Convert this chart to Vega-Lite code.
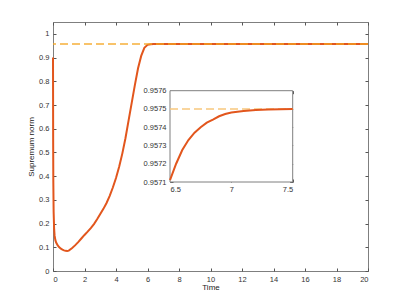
{
  "$schema": "https://vega.github.io/schema/vega-lite/v6.json",
  "width": 315,
  "height": 249,
  "autosize": "none",
  "padding": {"left": 53, "top": 22, "right": 39, "bottom": 34},
  "background": "white",
  "config": {
    "view": {"stroke": "#7f7f7f", "strokeWidth": 1},
    "axis": {
      "labelFont": "Liberation Sans", "titleFont": "Liberation Sans",
      "labelFontSize": 7.5, "titleFontSize": 8, "labelColor": "#333333", "titleColor": "#222222",
      "titleFontWeight": "normal", "domain": false, "grid": false, "labelOverlap": false,
      "tickColor": "#555555", "tickSize": -3, "labelPadding": 7
    }
  },
  "datasets": {
    "d": [
      {"t": 0, "v": 0.9}, {"t": 0.01, "v": 0.55}, {"t": 0.02, "v": 0.38}, {"t": 0.04, "v": 0.25},
      {"t": 0.07, "v": 0.18}, {"t": 0.1, "v": 0.15}, {"t": 0.15, "v": 0.13}, {"t": 0.2, "v": 0.12},
      {"t": 0.3, "v": 0.108}, {"t": 0.4, "v": 0.1}, {"t": 0.5, "v": 0.094}, {"t": 0.6, "v": 0.09},
      {"t": 0.7, "v": 0.087}, {"t": 0.8, "v": 0.085}, {"t": 0.9, "v": 0.084}, {"t": 1.0, "v": 0.086},
      {"t": 1.2, "v": 0.096}, {"t": 1.4, "v": 0.108}, {"t": 1.6, "v": 0.122}, {"t": 1.8, "v": 0.137},
      {"t": 2.0, "v": 0.152}, {"t": 2.2, "v": 0.166}, {"t": 2.4, "v": 0.181}, {"t": 2.6, "v": 0.198},
      {"t": 2.8, "v": 0.218}, {"t": 3.0, "v": 0.24}, {"t": 3.2, "v": 0.262}, {"t": 3.4, "v": 0.287},
      {"t": 3.6, "v": 0.317}, {"t": 3.8, "v": 0.352}, {"t": 4.0, "v": 0.392}, {"t": 4.2, "v": 0.44},
      {"t": 4.4, "v": 0.495}, {"t": 4.6, "v": 0.56}, {"t": 4.8, "v": 0.635}, {"t": 5.0, "v": 0.71},
      {"t": 5.2, "v": 0.785}, {"t": 5.4, "v": 0.855}, {"t": 5.6, "v": 0.907}, {"t": 5.8, "v": 0.941},
      {"t": 6.0, "v": 0.9535}, {"t": 6.2, "v": 0.9564}, {"t": 6.4, "v": 0.957},
      {"t": 6.5, "v": 0.95711}, {"t": 6.55, "v": 0.9572}, {"t": 6.6, "v": 0.957275}, {"t": 6.65, "v": 0.95733},
      {"t": 6.7, "v": 0.95737}, {"t": 6.75, "v": 0.9574}, {"t": 6.8, "v": 0.957425}, {"t": 6.85, "v": 0.957442},
      {"t": 6.9, "v": 0.95746}, {"t": 6.95, "v": 0.957472}, {"t": 7.0, "v": 0.957481}, {"t": 7.1, "v": 0.957489},
      {"t": 7.2, "v": 0.957494}, {"t": 7.3, "v": 0.957497}, {"t": 7.4, "v": 0.957499}, {"t": 7.5, "v": 0.9575},
      {"t": 8, "v": 0.9575}, {"t": 10, "v": 0.9575}, {"t": 12, "v": 0.9575}, {"t": 14, "v": 0.9575},
      {"t": 16, "v": 0.9575}, {"t": 18, "v": 0.9575}, {"t": 20, "v": 0.9575}
    ],
    "box": [{"a": 6.5, "b": 7.5, "c": 0.9571, "e": 0.9576}],
    "lim": [{"y": 0.9575, "x1": 6.5, "x2": 7.5}]
  },
  "layer": [
    {
      "layer": [
        {
          "data": {"name": "d"},
          "mark": {"type": "line", "color": "#e2561d", "strokeWidth": 2},
          "encoding": {
            "x": {"field": "t", "type": "quantitative",
              "scale": {"domain": [0, 20], "nice": false, "zero": false},
              "axis": {"values": [0, 2, 4, 6, 8, 10, 12, 14, 16, 18, 20], "format": "~g", "title": "Time", "titlePadding": 1}},
            "y": {"field": "v", "type": "quantitative",
              "scale": {"domain": [0, 1.05], "nice": false, "zero": false},
              "axis": {"values": [0, 0.1, 0.2, 0.3, 0.4, 0.5, 0.6, 0.7, 0.8, 0.9, 1], "format": "~g", "title": "Supremum norm", "titlePadding": 3}}
          }
        },
        {
          "data": {"name": "lim"},
          "mark": {"type": "rule", "color": "#f5a623", "strokeWidth": 1.5, "strokeDash": [8, 4], "opacity": 0.9},
          "encoding": {"y": {"field": "y", "type": "quantitative",
              "axis": {"values": [0, 0.1, 0.2, 0.3, 0.4, 0.5, 0.6, 0.7, 0.8, 0.9, 1], "format": "~g", "title": "Supremum norm", "titlePadding": 3}}}
        }
      ]
    },
    {
      "data": {"name": "d"},
      "mark": {"type": "point", "opacity": 0},
      "encoding": {
        "x": {"field": "t", "type": "quantitative",
          "scale": {"domain": [0, 20], "nice": false, "zero": false},
          "axis": {"orient": "top", "values": [0, 2, 4, 6, 8, 10, 12, 14, 16, 18, 20], "labels": false, "title": null}},
        "y": {"field": "v", "type": "quantitative",
          "scale": {"domain": [0, 1.05], "nice": false, "zero": false},
          "axis": {"orient": "right", "values": [0, 0.1, 0.2, 0.3, 0.4, 0.5, 0.6, 0.7, 0.8, 0.9, 1], "labels": false, "title": null}}
      }
    },
    {
      "layer": [
        {
          "data": {"name": "box"},
          "mark": {"type": "rect", "fill": "white", "stroke": "#7f7f7f", "strokeWidth": 1},
          "encoding": {
            "x": {"field": "a", "type": "quantitative",
              "scale": {"domain": [6.5, 7.5], "range": [117, 239.7], "nice": false, "zero": false},
              "axis": {"values": [6.5, 7, 7.5], "format": "~g", "title": null, "offset": -89, "labelPadding": 6}},
            "x2": {"field": "b"},
            "y": {"field": "c", "type": "quantitative",
              "scale": {"domain": [0.9571, 0.9576], "range": [160, 68.7], "nice": false, "zero": false},
              "axis": {"values": [0.9571, 0.9572, 0.9573, 0.9574, 0.9575, 0.9576], "format": ".4f", "title": null, "offset": -117, "labelPadding": 7}},
            "y2": {"field": "e"}
          }
        },
        {
          "data": {"name": "lim"},
          "mark": {"type": "rule", "color": "#f7c77e", "strokeWidth": 1.5, "strokeDash": [8, 4]},
          "encoding": {
            "y": {"field": "y", "type": "quantitative",
              "axis": {"values": [0.9571, 0.9572, 0.9573, 0.9574, 0.9575, 0.9576], "format": ".4f", "title": null, "offset": -117, "labelPadding": 7}},
            "x": {"field": "x1", "type": "quantitative",
              "axis": {"values": [6.5, 7, 7.5], "format": "~g", "title": null, "offset": -89, "labelPadding": 6}},
            "x2": {"field": "x2"}}
        },
        {
          "data": {"name": "d"},
          "transform": [{"filter": "datum.t >= 6.5 && datum.t <= 7.5"}],
          "mark": {"type": "line", "color": "#e2561d", "strokeWidth": 2},
          "encoding": {
            "x": {"field": "t", "type": "quantitative",
              "axis": {"values": [6.5, 7, 7.5], "format": "~g", "title": null, "offset": -89, "labelPadding": 6}},
            "y": {"field": "v", "type": "quantitative",
              "axis": {"values": [0.9571, 0.9572, 0.9573, 0.9574, 0.9575, 0.9576], "format": ".4f", "title": null, "offset": -117, "labelPadding": 7}}
          }
        }
      ]
    },
    {
      "data": {"name": "box"},
      "mark": {"type": "point", "opacity": 0},
      "encoding": {
        "x": {"field": "a", "type": "quantitative",
          "scale": {"domain": [6.5, 7.5], "range": [117, 239.7], "nice": false, "zero": false},
          "axis": {"orient": "top", "values": [6.5, 7, 7.5], "labels": false, "title": null, "offset": -68.7}},
        "y": {"field": "c", "type": "quantitative",
          "scale": {"domain": [0.9571, 0.9576], "range": [160, 68.7], "nice": false, "zero": false},
          "axis": {"orient": "right", "values": [0.9571, 0.9572, 0.9573, 0.9574, 0.9575, 0.9576], "labels": false, "title": null, "offset": -75.3}}
      }
    }
  ],
  "resolve": {"scale": {"x": "independent", "y": "independent"}, "axis": {"x": "independent", "y": "independent"}}
}
